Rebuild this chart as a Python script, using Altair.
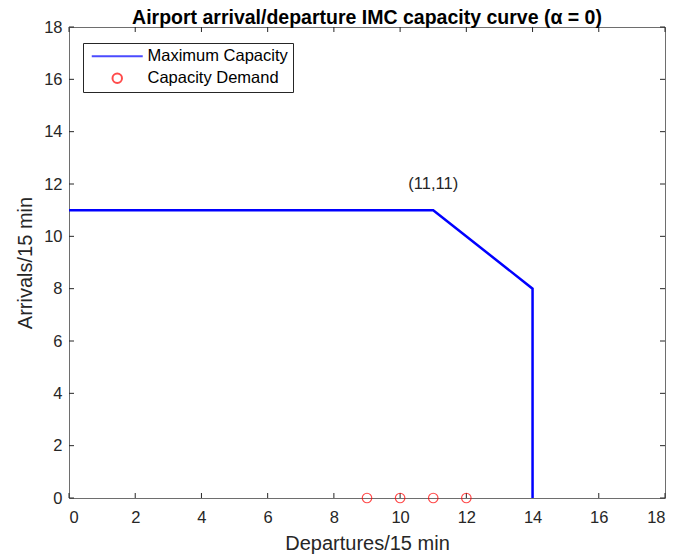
import altair as alt
import pandas as pd

cap_x = [0, 11, 14, 14]
cap_y = [11, 11, 8, 0]
dem_x = [9, 10, 11, 12]
dem_y = [0, 0, 0, 0]
ticks = [0, 2, 4, 6, 8, 10, 12, 14, 16, 18]
series = ["Maximum Capacity", "Capacity Demand"]
ann_x, ann_y, ann_text = [11], [12], ["(11,11)"]

W, H = 596, 471
FONT = "Liberation Sans"
TXT = "#262626"
TICKF = 16.5
TITLEF = 20

cap = pd.DataFrame({"x": cap_x, "y": cap_y, "s": series[0], "o": range(len(cap_x))})
dem = pd.DataFrame({"x": dem_x, "y": dem_y, "s": series[1]})
tk = pd.DataFrame({"t": ticks})
ann = pd.DataFrame({"x": ann_x, "y": ann_y, "label": ann_text})

xs = alt.Scale(domain=[0, 18], nice=False)
ys = alt.Scale(domain=[0, 18], nice=False)
color = alt.Color("s:N", scale=alt.Scale(domain=series, range=["#0000ff", "#ff0000"]),
                  legend=alt.Legend(title=None))

xax = alt.Axis(values=ticks, tickSize=0, domain=False, grid=False, labelFontSize=TICKF,
               labelColor=TXT, labelFont=FONT, labelPadding=11, title="Departures/15 min",
               titleFontSize=TITLEF, titleFont=FONT, titleColor=TXT, titleFontWeight="normal",
               titlePadding=8)
yax = alt.Axis(values=ticks, tickSize=0, domain=False, grid=False, labelFontSize=TICKF,
               labelColor=TXT, labelFont=FONT, labelPadding=7, title="Arrivals/15 min",
               titleFontSize=TITLEF, titleFont=FONT, titleColor=TXT, titleFontWeight="normal",
               titlePadding=8)

line = alt.Chart(cap).mark_line(strokeWidth=2.5).encode(
    x=alt.X("x:Q", scale=xs, axis=xax),
    y=alt.Y("y:Q", scale=ys, axis=yax),
    order="o:Q",
    color=color,
)

pts = alt.Chart(dem).mark_point(filled=False, strokeWidth=1.2).encode(
    x=alt.X("x:Q", scale=xs),
    y=alt.Y("y:Q", scale=ys),
    color=color,
    shape=alt.Shape("s:N", scale=alt.Scale(domain=series, range=["M-5,0L5,0", "circle"]),
                    legend=alt.Legend(title=None)),
    size=alt.Size("s:N", scale=alt.Scale(domain=series, range=[104, 90]),
                  legend=alt.Legend(title=None)),
)

txt = alt.Chart(ann).mark_text(fontSize=TICKF, font=FONT, color=TXT).encode(
    x=alt.X("x:Q", scale=xs), y=alt.Y("y:Q", scale=ys), text="label:N")

tc = "#262626"
tb = alt.Chart(tk).mark_rule(color=tc, strokeWidth=1).encode(
    x=alt.X("t:Q", scale=xs), y=alt.value(H), y2=alt.value(H - 5))
tt = alt.Chart(tk).mark_rule(color=tc, strokeWidth=1).encode(
    x=alt.X("t:Q", scale=xs), y=alt.value(0), y2=alt.value(5))
tl = alt.Chart(tk).mark_rule(color=tc, strokeWidth=1).encode(
    y=alt.Y("t:Q", scale=ys), x=alt.value(0), x2=alt.value(5))
tr = alt.Chart(tk).mark_rule(color=tc, strokeWidth=1).encode(
    y=alt.Y("t:Q", scale=ys), x=alt.value(W), x2=alt.value(W - 5))

chart = alt.layer(tb, tt, tl, tr, line, pts, txt).properties(
    width=W, height=H,
    title=alt.Title("Airport arrival/departure IMC capacity curve (α = 0)",
                    fontSize=19.5, font=FONT, fontWeight="bold", color="#000000", offset=-9),
    autosize=alt.AutoSizeParams(type="none"),
    padding={"left": 61, "top": 19, "right": 20, "bottom": 60},
).configure_view(stroke="#6e6e6e", strokeWidth=1).configure_legend(
    orient="none", legendX=14, legendY=16, strokeColor="#262626", fillColor="#ffffff",
    padding=5, labelFontSize=TICKF, labelFont=FONT, labelColor="#000000",
    symbolStrokeWidth=2, rowPadding=4, symbolOffset=21, labelOffset=22, cornerRadius=0,
)

chart.save("out.html", embed_options={"renderer": "svg", "actions": False})
